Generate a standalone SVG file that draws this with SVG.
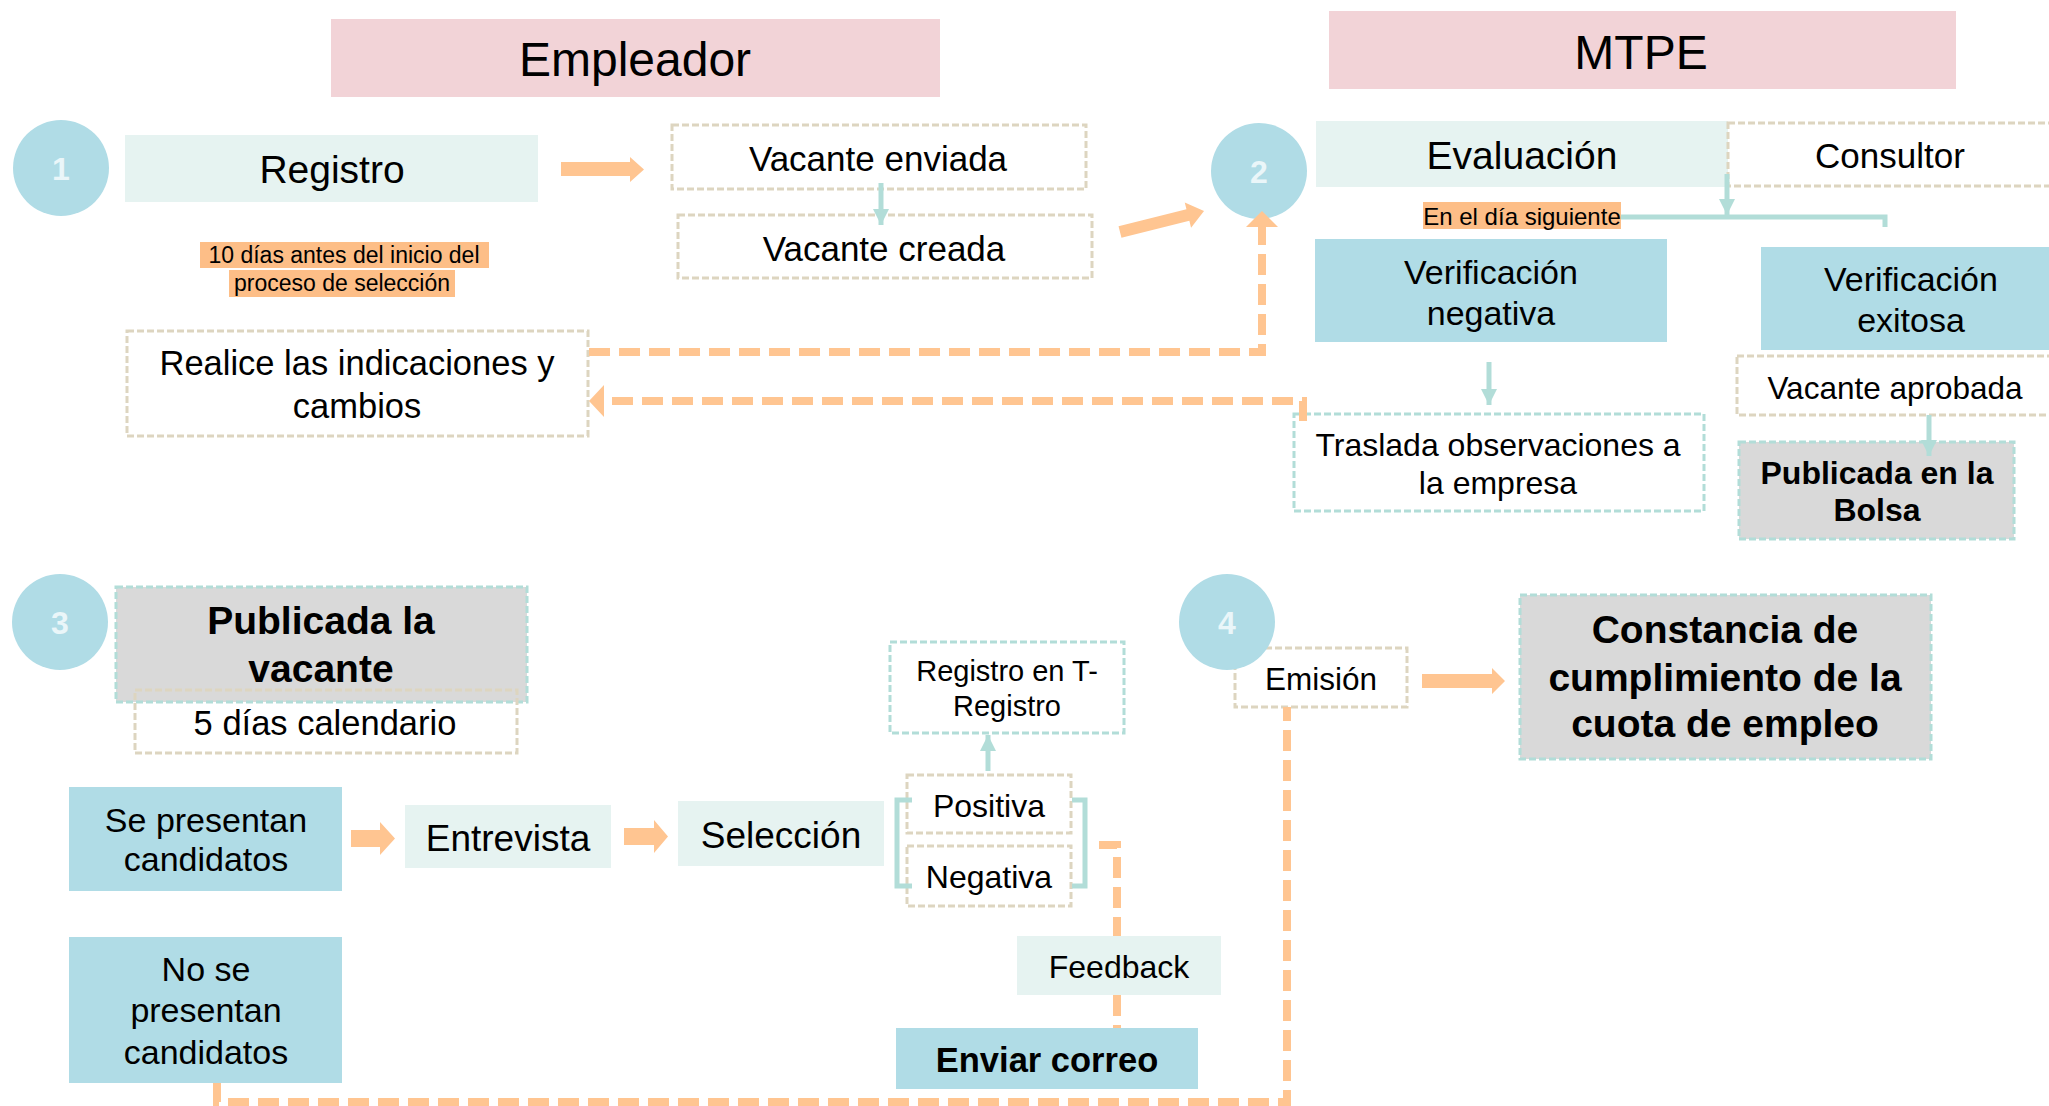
<svg xmlns="http://www.w3.org/2000/svg" width="2049" height="1106" viewBox="0 0 2049 1106">
<defs>
<style>
text{font-family:"Liberation Sans",Arial,sans-serif;fill:#000;text-anchor:middle;dominant-baseline:central}
.hdr{fill:#F2D3D7}
.mint{fill:#E6F3F1}
.blue{fill:#B0DCE6}
.gray{fill:#D9D9D9;stroke:#B2DDD8;stroke-width:3;stroke-dasharray:7 3}
.bd{fill:#fff;stroke:#DDD5C0;stroke-width:3;stroke-dasharray:7 3}
.bdn{fill:none;stroke:#DDD5C0;stroke-width:3;stroke-dasharray:7 3}
.td{fill:#fff;stroke:#B2DDD8;stroke-width:3;stroke-dasharray:7 3}
.circ{fill:#B0DCE6}
.num{fill:#EAF6F9;font-weight:bold;font-size:32px}
.hl{fill:#FDBE87}
.b{font-weight:bold}
.od{fill:none;stroke:#FFC591;stroke-width:8;stroke-dasharray:21 9}
.ob{fill:#FFC591}
.tl{fill:none;stroke:#B2DDD8;stroke-width:5}
</style>
<marker id="ta" markerUnits="userSpaceOnUse" markerWidth="18" markerHeight="18" refX="16" refY="8" orient="auto">
<path d="M0,0 L16,8 L0,16 Z" fill="#B2DDD8"/>
</marker>
</defs>
<rect width="2049" height="1106" fill="#fff"/>

<g id="empleador">
<rect class="hdr" x="331" y="19" width="609" height="78"/>
<text x="635" y="59" font-size="48">Empleador</text>
</g>
<g id="mtpe">
<rect class="hdr" x="1329" y="11" width="627" height="78"/>
<text x="1641" y="52" font-size="48">MTPE</text>
</g>

<g id="n1">
<ellipse class="circ" cx="61" cy="168" rx="48" ry="48"/>
<text class="num" x="61" y="169">1</text>
</g>
<g id="registro">
<rect class="mint" x="125" y="135" width="413" height="67"/>
<text x="332" y="169" font-size="39">Registro</text>
</g>
<g id="vacante-enviada">
<rect class="bd" x="672" y="125" width="414" height="64"/>
<text x="878" y="158" font-size="35">Vacante enviada</text>
</g>
<g id="vacante-creada">
<rect class="bd" x="678" y="215" width="414" height="63"/>
<text x="884" y="248" font-size="35">Vacante creada</text>
</g>
<g id="nota-10-dias">
<rect class="hl" x="200" y="242" width="289" height="26"/>
<rect class="hl" x="229" y="270" width="226" height="27"/>
<text x="344" y="255" font-size="23">10 días antes del inicio del</text>
<text x="342" y="283" font-size="23">proceso de selección</text>
</g>
<g id="realice">
<rect class="bd" x="127" y="331" width="461" height="105"/>
<text x="357" y="363" font-size="34.5">Realice las indicaciones y</text>
<text x="357" y="406" font-size="34.5">cambios</text>
</g>

<g id="n2">
<ellipse class="circ" cx="1259" cy="171" rx="48" ry="48"/>
<text class="num" x="1259" y="172">2</text>
</g>
<g id="evaluacion">
<rect class="mint" x="1316" y="121" width="412" height="66"/>
<text x="1522" y="155" font-size="39">Evaluación</text>
</g>
<g id="consultor">
<rect class="bd" x="1728" y="123" width="340" height="63"/>
<text x="1890" y="155" font-size="35">Consultor</text>
</g>
<g id="en-el-dia">
<rect class="hl" x="1423" y="202" width="198" height="27"/>
<text x="1522" y="216" font-size="24">En el día siguiente</text>
</g>
<g id="verif-negativa">
<rect class="blue" x="1315" y="239" width="352" height="103"/>
<text x="1491" y="272" font-size="34">Verificación</text>
<text x="1491" y="313" font-size="34">negativa</text>
</g>
<g id="verif-exitosa">
<rect class="blue" x="1761" y="247" width="300" height="103"/>
<text x="1911" y="279" font-size="34">Verificación</text>
<text x="1911" y="320" font-size="34">exitosa</text>
</g>
<g id="traslada">
<rect class="td" x="1294" y="414" width="410" height="97"/>
<text x="1498" y="445" font-size="32">Traslada observaciones a</text>
<text x="1498" y="483" font-size="32">la empresa</text>
</g>
<g id="vacante-aprobada">
<rect class="bd" x="1737" y="356" width="330" height="59"/>
<text x="1895" y="388" font-size="31.5">Vacante aprobada</text>
</g>
<g id="publicada-bolsa">
<rect class="gray" x="1739" y="442" width="275" height="97"/>
<text class="b" x="1877" y="473" font-size="32">Publicada en la</text>
<text class="b" x="1877" y="510" font-size="32">Bolsa</text>
</g>

<g id="n3">
<ellipse class="circ" cx="60" cy="622" rx="48" ry="48"/>
<text class="num" x="60" y="623">3</text>
</g>
<g id="publicada-vacante">
<rect class="gray" x="116" y="587" width="411" height="115"/>
<text class="b" x="321" y="620" font-size="39">Publicada la</text>
<text class="b" x="321" y="668" font-size="39">vacante</text>
</g>
<g id="cinco-dias">
<rect class="bdn" x="135" y="690" width="382" height="63"/>
<text x="325" y="723" font-size="34.5">5 días calendario</text>
</g>
<g id="se-presentan">
<rect class="blue" x="69" y="787" width="273" height="104"/>
<text x="206" y="820" font-size="34">Se presentan</text>
<text x="206" y="859" font-size="34">candidatos</text>
</g>
<g id="entrevista">
<rect class="mint" x="405" y="805" width="206" height="63"/>
<text x="508" y="838" font-size="37">Entrevista</text>
</g>
<g id="seleccion">
<rect class="mint" x="678" y="801" width="206" height="65"/>
<text x="781" y="835" font-size="37">Selección</text>
</g>
<g id="positiva">
<rect class="bd" x="907" y="775" width="164" height="58"/>
<text x="989" y="806" font-size="32">Positiva</text>
</g>
<g id="negativa">
<rect class="bd" x="907" y="846" width="164" height="60"/>
<text x="989" y="877" font-size="32">Negativa</text>
</g>
<g id="registro-t">
<rect class="td" x="890" y="642" width="234" height="91"/>
<text x="1007" y="671" font-size="29">Registro en T-</text>
<text x="1007" y="706" font-size="29">Registro</text>
</g>
<g id="feedback">
<rect class="mint" x="1017" y="936" width="204" height="59"/>
<text x="1119" y="967" font-size="32">Feedback</text>
</g>
<g id="enviar-correo">
<rect class="blue" x="896" y="1028" width="302" height="61"/>
<text class="b" x="1047" y="1060" font-size="34.5">Enviar correo</text>
</g>
<g id="no-se-presentan">
<rect class="blue" x="69" y="937" width="273" height="146"/>
<text x="206" y="969" font-size="34">No se</text>
<text x="206" y="1010" font-size="34">presentan</text>
<text x="206" y="1052" font-size="34">candidatos</text>
</g>

<g id="emision">
<rect class="bd" x="1235" y="648" width="172" height="59"/>
<text x="1321" y="679" font-size="31.5">Emisión</text>
</g>
<g id="n4">
<ellipse class="circ" cx="1227" cy="622" rx="48" ry="48"/>
<text class="num" x="1227" y="623">4</text>
</g>
<g id="constancia">
<rect class="gray" x="1520" y="595" width="411" height="164"/>
<text class="b" x="1725" y="629" font-size="39">Constancia de</text>
<text class="b" x="1725" y="677" font-size="39">cumplimiento de la</text>
<text class="b" x="1725" y="723" font-size="39">cuota de empleo</text>
</g>

<g id="connectors">
<!-- orange block arrows -->
<polygon class="ob" points="561,162 630,162 630,157 644,169.5 630,182 630,176 561,176"/>
<polygon class="ob" points="0,-6 70,-6 70,-13 86.6,0 70,13 70,6 0,6" transform="translate(1120,232) rotate(-14.04)"/>
<polygon class="ob" points="351,830 380,830 380,822 395,838.5 380,855 380,847 351,847"/>
<polygon class="ob" points="624,828 654,828 654,820 668,836.5 654,853 654,845 624,845"/>
<polygon class="ob" points="1422,674 1492,674 1492,668 1505,681 1492,694 1492,688 1422,688"/>
<!-- orange dashed connectors -->
<path class="od" d="M589,352 H1262 V226"/>
<polygon class="ob" points="1262,211 1278,227 1246,227"/>
<path class="od" d="M1303,421 V401 H603"/>
<polygon class="ob" points="589,401 604,385 604,417"/>
<path class="od" d="M1099,845 H1117 V936"/>
<path class="od" d="M1117,995 V1028"/>
<path class="od" d="M217,1083 V1102 H1287 V707"/>
<!-- teal connectors -->
<path class="tl" d="M881,183 V225" marker-end="url(#ta)"/>
<path class="tl" d="M1727,174 V215" marker-end="url(#ta)"/>
<path class="tl" d="M1621,217 H1885 V227"/>
<path class="tl" d="M1489,362 V405" marker-end="url(#ta)"/>
<path class="tl" d="M1929,415 V456" marker-end="url(#ta)"/>
<path class="tl" d="M988,771 V735" marker-end="url(#ta)"/>
<path class="tl" d="M912,800 H897 V886 H912"/>
<path class="tl" d="M1072,800 H1085 V886 H1072"/>
</g>
</svg>
